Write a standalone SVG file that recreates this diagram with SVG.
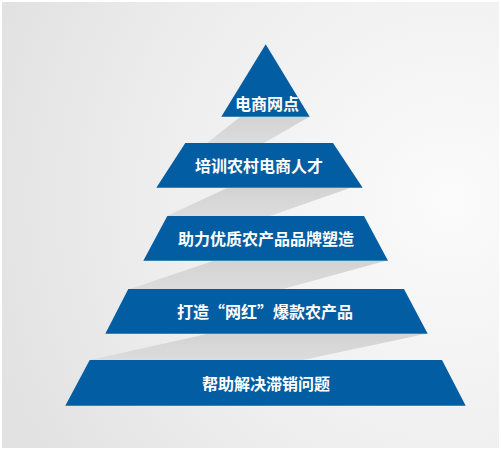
<svg xmlns="http://www.w3.org/2000/svg" width="501" height="450" viewBox="0 0 501 450">
  <defs>
    <radialGradient id="bg" cx="450" cy="200" r="480" gradientUnits="userSpaceOnUse">
      <stop offset="0" stop-color="#fbfbfb"/>
      <stop offset="0.6" stop-color="#eeeeee"/>
      <stop offset="1" stop-color="#e2e2e2"/>
    </radialGradient>
    <linearGradient id="sh" x1="0" y1="0" x2="0" y2="1">
      <stop offset="0" stop-color="#d3d3d3"/>
      <stop offset="1" stop-color="#dcdcdc"/>
    </linearGradient>
  </defs>
  <style>
    .tier { fill: #035da2; }
    .shadow { fill: url(#sh); }
    .label { fill: #ffffff; font-family: "Noto Sans CJK SC", "Noto Sans", sans-serif; font-size: 16px; font-weight: bold; text-anchor: middle; dominant-baseline: central; }
  </style>
  <rect x="0" y="0" width="501" height="450" fill="#ffffff"/>
  <rect x="2" y="2" width="497" height="446" fill="url(#bg)"/>
  <g id="connectors">
    <polygon class="shadow" points="240,117 309,117 264,143 207,143"/>
    <polygon class="shadow" points="227,188 350,188 270,216 167,216"/>
    <polygon class="shadow" points="213,261 385,261 283,289 130,289"/>
    <polygon class="shadow" points="207,334 425,334 303,360 90,360"/>
  </g>
  <g id="tier1">
    <polygon class="tier" points="265.7,44.3 309.7,116.7 221.3,116.7"/>
    <text class="label" x="267" y="103">电商网点</text>
  </g>
  <g id="tier2">
    <polygon class="tier" points="185.3,143 333,143 362.7,187.7 156.3,187.7"/>
    <text class="label" x="259" y="165">培训农村电商人才</text>
  </g>
  <g id="tier3">
    <polygon class="tier" points="167.3,216 364,216 388,260.7 143.3,260.7"/>
    <text class="label" x="266" y="238">助力优质农产品品牌塑造</text>
  </g>
  <g id="tier4">
    <polygon class="tier" points="128.3,289 404,289 427.7,333.7 105.3,333.7"/>
    <text class="label" x="265" y="311">打造“网红”爆款农产品</text>
  </g>
  <g id="tier5">
    <polygon class="tier" points="89.7,360 442,360 465.7,405.7 65.3,405.7"/>
    <text class="label" x="266" y="383">帮助解决滞销问题</text>
  </g>
</svg>
